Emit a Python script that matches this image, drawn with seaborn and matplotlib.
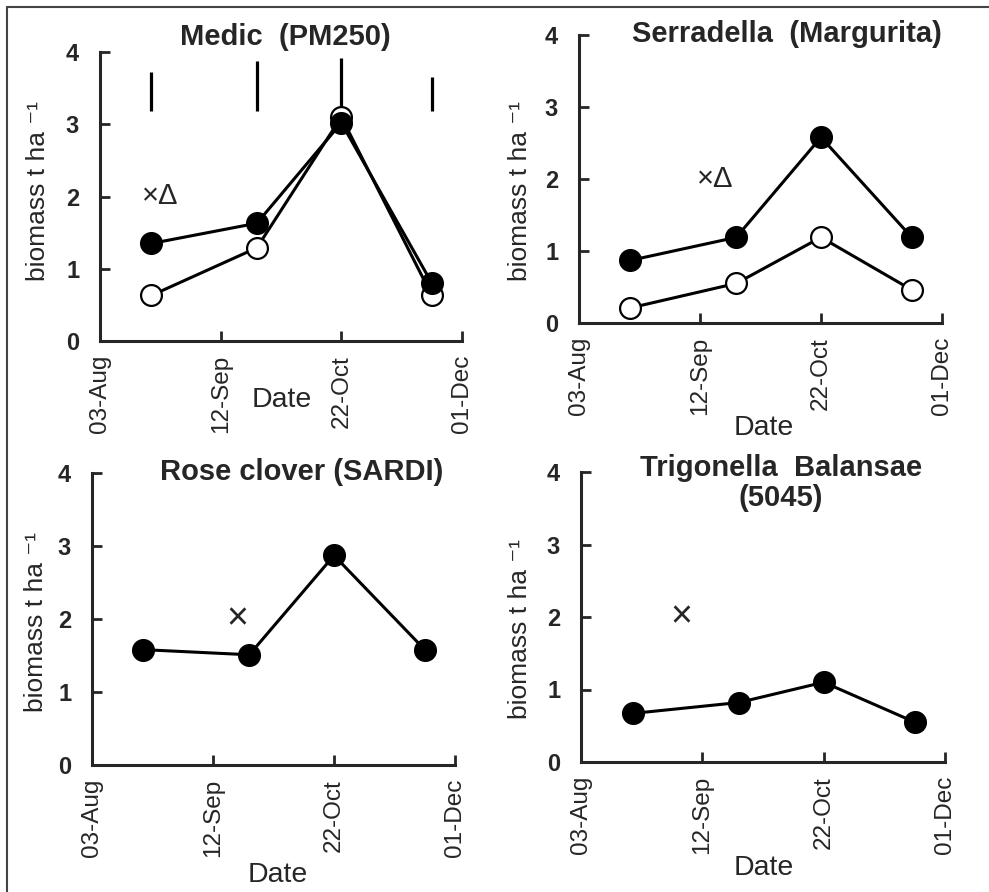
import pandas as pd
import seaborn as sns
import matplotlib.pyplot as plt
import matplotlib.dates as mdates
from matplotlib.lines import Line2D

# sampling dates and biomass (t/ha)
sample_dates = ["2015-08-20", "2015-09-24", "2015-10-22", "2015-11-21"]
tick_dates = ["2015-08-03", "2015-09-12", "2015-10-22", "2015-12-01"]

medic_filled = [1.35, 1.63, 3.02, 0.80]
medic_open = [0.63, 1.29, 3.10, 0.63]
medic_bar_low = [3.19, 3.19, 3.19, 3.19]
medic_bar_high = [3.72, 3.87, 3.92, 3.65]

serradella_filled = [0.87, 1.19, 2.58, 1.19]
serradella_open = [0.21, 0.55, 1.19, 0.46]

rose_filled = [1.58, 1.51, 2.87, 1.58]

trigonella_filled = [0.67, 0.82, 1.10, 0.55]

titles = ["Medic  (PM250)", "Serradella  (Margurita)",
          "Rose clover (SARDI)", "Trigonella  Balansae\n(5045)"]
marks = ["\u00d7\u0394", "\u00d7\u0394", "\u00d7", "\u00d7"]
mark_sizes = [21, 21, 27, 27]
mark_dates = ["2015-08-23", "2015-09-17", "2015-09-20", "2015-09-05"]
mark_value = 2.0

sns.set_style("ticks")
plt.rcParams["font.family"] = ["Liberation Sans", "DejaVu Sans"]

W, H = 989, 892
fig = plt.figure(figsize=(W / 100, H / 100), dpi=100)


def box(left, top, right, bottom):
    return [left / W, 1 - bottom / H, (right - left) / W, (bottom - top) / H]


panels = [
    dict(rect=box(100, 52, 462, 341), filled=medic_filled, open=medic_open,
         title_xy=(0.511, 1.052), ylab_xy=(-0.138, 0.52), xlab_xy=(0.503, -0.159)),
    dict(rect=box(579, 35, 942, 323), filled=serradella_filled, open=serradella_open,
         title_xy=(0.573, 1.005), ylab_xy=(-0.13, 0.46), xlab_xy=(0.51, -0.319)),
    dict(rect=box(92, 473, 455, 765), filled=rose_filled, open=None,
         title_xy=(0.577, 1.005), ylab_xy=(-0.121, 0.49), xlab_xy=(0.512, -0.332)),
    dict(rect=box(581, 472, 945, 762), filled=trigonella_filled, open=None,
         title_xy=(0.55, 0.962), ylab_xy=(-0.135, 0.46), xlab_xy=(0.503, -0.321)),
]

dates = pd.to_datetime(sample_dates)
ticks = pd.to_datetime(tick_dates)

for i, p in enumerate(panels):
    ax = fig.add_axes(p["rect"])
    line_kw = dict(color="black", marker="o", markersize=15, linewidth=2.2,
                   markeredgecolor="black", markeredgewidth=1.6, clip_on=False)
    if p["open"] is not None:
        df_open = pd.DataFrame({"date": dates, "biomass": p["open"]})
        sns.lineplot(data=df_open, x="date", y="biomass", ax=ax,
                     markerfacecolor="white", zorder=3, **line_kw)
    df_fill = pd.DataFrame({"date": dates, "biomass": p["filled"]})
    sns.lineplot(data=df_fill, x="date", y="biomass", ax=ax,
                 markerfacecolor="black", zorder=4, **line_kw)

    if i == 0:
        ax.vlines(dates, medic_bar_low, medic_bar_high, colors="black",
                  linewidth=2.3, zorder=2)

    ax.text(pd.Timestamp(mark_dates[i]), mark_value, marks[i], ha="center",
            va="center", fontsize=mark_sizes[i])

    ax.set_xlim(ticks[0], ticks[-1])
    ax.set_ylim(0, 4)
    ax.set_xticks(ticks)
    ax.set_yticks([0, 1, 2, 3, 4])
    ax.xaxis.set_major_formatter(mdates.DateFormatter("%d-%b"))
    ax.tick_params(axis="x", direction="in", length=7, width=2, pad=10,
                   labelsize=17.5, labelrotation=90)
    ax.tick_params(axis="y", direction="in", length=7, width=2, pad=15,
                   labelsize=17)
    for lab in ax.get_yticklabels():
        lab.set_fontweight("bold")
    sns.despine(ax=ax)
    for s in ["left", "bottom"]:
        ax.spines[s].set_linewidth(2.2)

    ax.set_xlabel("Date", fontsize=20.5)
    ax.set_ylabel("biomass t ha \u207b\u00b9", fontsize=19)
    ax.xaxis.set_label_coords(*p["xlab_xy"])
    ax.xaxis.label.set_va("top")
    ax.yaxis.set_label_coords(*p["ylab_xy"])

    ax.text(p["title_xy"][0], p["title_xy"][1], titles[i], transform=ax.transAxes,
            ha="center", va="center", fontsize=21, fontweight="bold",
            multialignment="center", linespacing=1.1)

# frame round the figure (left and top edges only are visible)
fig.add_artist(Line2D([7 / W, 7 / W], [0, 1 - 7 / H], color="#444444", lw=1.5))
fig.add_artist(Line2D([7 / W, 1], [1 - 7 / H, 1 - 7 / H], color="#444444", lw=1.5))

fig.savefig("out.png", dpi=100)
